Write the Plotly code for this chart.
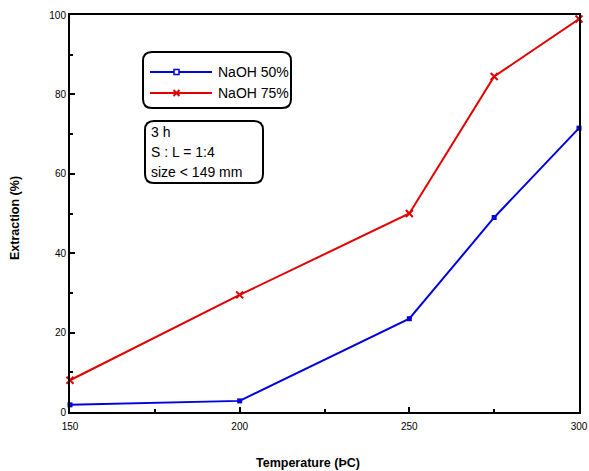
import plotly.graph_objects as go

temperature = [150, 200, 250, 275, 300]
naoh50 = [1.8, 2.8, 23.5, 49.0, 71.5]
naoh75 = [8.0, 29.5, 50.0, 84.5, 99.0]
series_names = ["NaOH 50%", "NaOH 75%"]
series_colors = ["#0000dd", "#e00000"]
note_lines = ["3 h", "S : L = 1:4", "size < 149 mm"]

FONT = "Liberation Sans, Arial, sans-serif"

fig = go.Figure()
fig.add_trace(go.Scatter(x=temperature, y=naoh50, name=series_names[0], mode="lines+markers",
                         line=dict(color=series_colors[0], width=2),
                         marker=dict(symbol="square", size=5, color=series_colors[0]), cliponaxis=False))
fig.add_trace(go.Scatter(x=temperature, y=naoh75, name=series_names[1], mode="lines+markers",
                         line=dict(color=series_colors[1], width=2),
                         marker=dict(symbol="x-thin", size=7, color=series_colors[1],
                                     line=dict(color=series_colors[1], width=2)), cliponaxis=False))

def rounded(x0, y0, x1, y1, rx, ry):
    return (f"M {x0+rx},{y0} L {x1-rx},{y0} Q {x1},{y0} {x1},{y0+ry} "
            f"L {x1},{y1-ry} Q {x1},{y1} {x1-rx},{y1} L {x0+rx},{y1} "
            f"Q {x0},{y1} {x0},{y1-ry} L {x0},{y0+ry} Q {x0},{y0} {x0+rx},{y0} Z")

W, H = 509.0, 397.0
def px(x): return (x - 70) / W
def py(y): return (412 - y) / H

shapes = [
    dict(type="path", xref="paper", yref="paper",
         path=rounded(px(143), py(108), px(291), py(52), 9 / W, 9 / H),
         line=dict(color="black", width=2)),
    dict(type="path", xref="paper", yref="paper",
         path=rounded(px(145), py(183), px(263), py(121), 9 / W, 9 / H),
         line=dict(color="black", width=2)),
]

annotations = []
# manual legend
legend_rows = [72, 93]
for i, (name, col) in enumerate(zip(series_names, series_colors)):
    yy = legend_rows[i]
    shapes.append(dict(type="line", xref="paper", yref="paper", x0=px(150), x1=px(212),
                       y0=py(yy), y1=py(yy), line=dict(color=col, width=2)))
    if i == 0:
        shapes.append(dict(type="rect", xref="paper", yref="paper", x0=px(174), x1=px(179),
                           y0=py(yy + 2.5), y1=py(yy - 2.5), line=dict(color=col, width=1.5),
                           fillcolor="white"))
    else:
        for dy in (-3, 3):
            shapes.append(dict(type="line", xref="paper", yref="paper", x0=px(173.5), x1=px(179.5),
                               y0=py(yy - dy), y1=py(yy + dy), line=dict(color=col, width=2)))
    annotations.append(dict(text=name, xref="paper", yref="paper", x=px(216), y=py(yy),
                            xanchor="left", yanchor="middle", showarrow=False,
                            font=dict(family=FONT, size=14, color="black")))

for i, t in enumerate(note_lines):
    annotations.append(dict(text=t, xref="paper", yref="paper", x=px(149), y=py(132 + 20 * i),
                            xanchor="left", yanchor="middle", showarrow=False,
                            font=dict(family=FONT, size=14, color="black")))
annotations.append(dict(text="<b>Temperature (ÞC)</b>", xref="paper", yref="paper",
                        x=px(308), y=py(463), xanchor="center", yanchor="middle", showarrow=False,
                        font=dict(family=FONT, size=12.5, color="black")))
annotations.append(dict(text="<b>Extraction (%)</b>", xref="paper", yref="paper",
                        x=px(15), y=py(218), xanchor="center", yanchor="middle", showarrow=False,
                        textangle=-90, font=dict(family=FONT, size=12.5, color="black")))

axis_common = dict(showgrid=False, zeroline=False, showline=True, linecolor="black", linewidth=2,
                   mirror=True, ticks="inside", ticklen=5, tickwidth=1.5, tickcolor="black",
                   automargin=False,
                   tickfont=dict(family=FONT, size=10, color="black"))

fig.update_layout(
    width=589, height=471,
    margin=dict(l=70, r=10, t=15, b=59, autoexpand=False),
    paper_bgcolor="white", plot_bgcolor="white",
    showlegend=False,
    shapes=shapes, annotations=annotations,
    xaxis=dict(range=[150, 300], tickvals=[150, 200, 250, 300], ticklabelstandoff=4,
               minor=dict(tickvals=[175, 225, 275], ticks="inside", ticklen=3, tickcolor="black"),
               **axis_common),
    yaxis=dict(range=[0, 100], tickvals=[0, 20, 40, 60, 80, 100],
               minor=dict(tickvals=[10, 30, 50, 70, 90], ticks="inside", ticklen=3, tickcolor="black"),
               **axis_common),
)

fig.write_html("out.html", config={"displayModeBar": False},
               post_script="document.body.style.margin='0';document.body.style.overflow='hidden';")
